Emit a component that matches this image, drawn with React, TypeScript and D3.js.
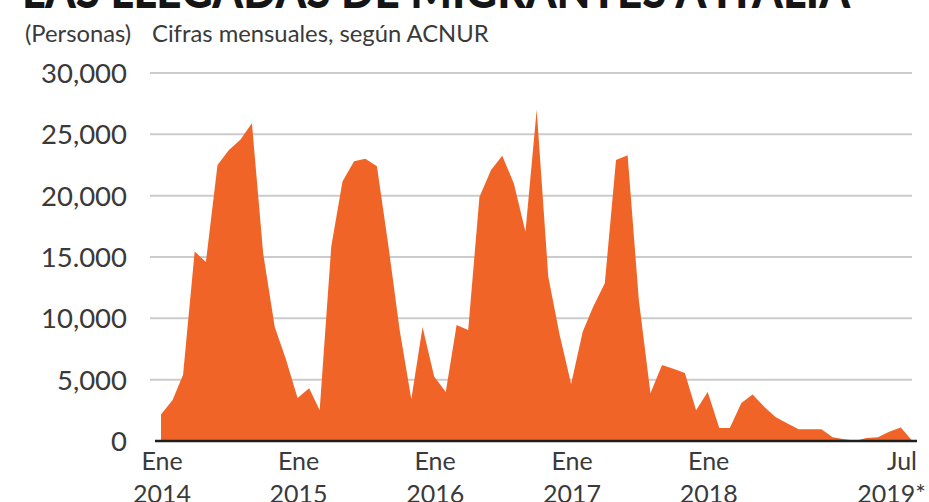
import { useEffect, useRef } from 'react';
import * as d3 from 'd3';

// llegadas mensuales por año (personas)
const arrivals2014 = [2170, 3340, 5400, 15450, 14600, 22500, 23700, 24550, 25900, 15300, 9300, 6650];
const arrivals2015 = [3500, 4300, 2500, 15850, 21150, 22800, 23000, 22400, 15850, 9000, 3400, 9300];
const arrivals2016 = [5250, 4000, 9450, 9050, 19900, 22100, 23250, 21000, 17050, 27000, 13400, 8700];
const arrivals2017 = [4650, 8900, 10950, 12850, 22900, 23300, 11500, 3900, 6200, 5900, 5550, 2500];
const arrivals2018 = [4000, 1050, 1050, 3100, 3800, 2800, 1950, 1450, 950, 950, 950, 300];
const arrivals2019 = [150, 30, 250, 300, 750, 1100, 50];

const years = [2014, 2015, 2016, 2017, 2018, 2019];
const yTicks = [0, 5000, 10000, 15000, 20000, 25000, 30000];
const yTickLabels = ['0', '5,000', '10,000', '15.000', '20,000', '25,000', '30,000'];
const xTickDates = [
  new Date(2014, 0, 1),
  new Date(2015, 0, 1),
  new Date(2016, 0, 1),
  new Date(2017, 0, 1),
  new Date(2018, 0, 1),
  new Date(2019, 6, 1),
];
const xTickMonths = ['Ene', 'Ene', 'Ene', 'Ene', 'Ene', 'Jul'];
const xTickYears = ['2014', '2015', '2016', '2017', '2018', '2019*'];

const title = 'LAS LLEGADAS DE MIGRANTES A ITALIA';
const subtitleUnit = '(Personas)';
const subtitle = 'Cifras mensuales, según ACNUR';

const width = 929;
const height = 502;
const font = 'Lato, "Open Sans", sans-serif';
const textColor = '#3a3a3a';
const orange = '#f06427';

const AreaChart = () => {
  const ref = useRef<SVGSVGElement>(null);

  useEffect(() => {
    const series = [arrivals2014, arrivals2015, arrivals2016, arrivals2017, arrivals2018, arrivals2019];
    const data = series.flatMap((vals, i) =>
      vals.map((v, j) => ({ date: new Date(years[i], j, 1), value: v }))
    );

    const svg = d3.select(ref.current);
    svg.selectAll('*').remove();

    const x = d3
      .scaleTime()
      .domain([new Date(2014, 0, 1), new Date(2019, 6, 1)])
      .range([161, 912]);

    const y = d3.scaleLinear().domain([0, 30000]).range([441, 73]);

    const [x0, x1] = x.range();
    const last = xTickDates.length - 1;

    // titulo (cortado arriba)
    svg
      .append('text')
      .attr('x', 22)
      .attr('y', 8)
      .attr('font-family', font)
      .attr('font-weight', 900)
      .attr('font-size', 50)
      .attr('textLength', 828)
      .attr('lengthAdjust', 'spacingAndGlyphs')
      .attr('fill', '#151515')
      .text(title);

    svg
      .append('text')
      .attr('x', 25)
      .attr('y', 42)
      .attr('font-family', font)
      .attr('font-size', 23.8)
      .attr('fill', textColor)
      .text(subtitleUnit);

    svg
      .append('text')
      .attr('x', 152)
      .attr('y', 42)
      .attr('font-family', font)
      .attr('font-size', 23.8)
      .attr('fill', textColor)
      .text(subtitle);

    // lineas de la cuadricula
    svg
      .append('g')
      .selectAll('line')
      .data(yTicks.filter((d) => d > 0))
      .enter()
      .append('line')
      .attr('x1', x0 - 11)
      .attr('x2', x1)
      .attr('y1', (d) => y(d))
      .attr('y2', (d) => y(d))
      .attr('stroke', '#c9cbcd')
      .attr('stroke-width', 2);

    svg
      .append('g')
      .selectAll('text')
      .data(yTicks)
      .enter()
      .append('text')
      .attr('x', 127)
      .attr('y', (d) => y(d))
      .attr('dy', '0.36em')
      .attr('text-anchor', 'end')
      .attr('font-family', font)
      .attr('font-size', 27.5)
      .attr('fill', textColor)
      .text((_, i) => yTickLabels[i]);

    const area = d3
      .area<{ date: Date; value: number }>()
      .x((d) => x(d.date))
      .y0(y(0))
      .y1((d) => y(d.value));

    svg.append('path').datum(data).attr('d', area).attr('fill', orange);

    // eje base
    svg
      .append('line')
      .attr('x1', x0 - 6)
      .attr('x2', x1 + 5)
      .attr('y1', y(0))
      .attr('y2', y(0))
      .attr('stroke', '#1e1e1e')
      .attr('stroke-width', 2.5);

    const xLabels = svg
      .append('g')
      .selectAll('g')
      .data(xTickDates)
      .enter()
      .append('g')
      .attr('transform', (d) => `translate(${x(d) + 1},0)`);

    xLabels
      .append('text')
      .attr('x', (_, i) => (i === last ? 4 : 0))
      .attr('y', 470)
      .attr('text-anchor', (_, i) => (i === last ? 'end' : 'middle'))
      .attr('font-family', font)
      .attr('font-size', 25)
      .attr('fill', textColor)
      .text((_, i) => xTickMonths[i]);

    xLabels
      .append('text')
      .attr('x', (_, i) => (i === last ? 13 : 0))
      .attr('y', 503)
      .attr('text-anchor', (_, i) => (i === last ? 'end' : 'middle'))
      .attr('font-family', font)
      .attr('font-size', 25)
      .attr('fill', textColor)
      .text((_, i) => xTickYears[i]);
  }, []);

  return (
    <svg
      ref={ref}
      width={width}
      height={height}
      style={{ position: 'absolute', left: 0, top: 0, background: '#fff' }}
    ></svg>
  );
};

export default function App() {
  return <AreaChart />;
}
